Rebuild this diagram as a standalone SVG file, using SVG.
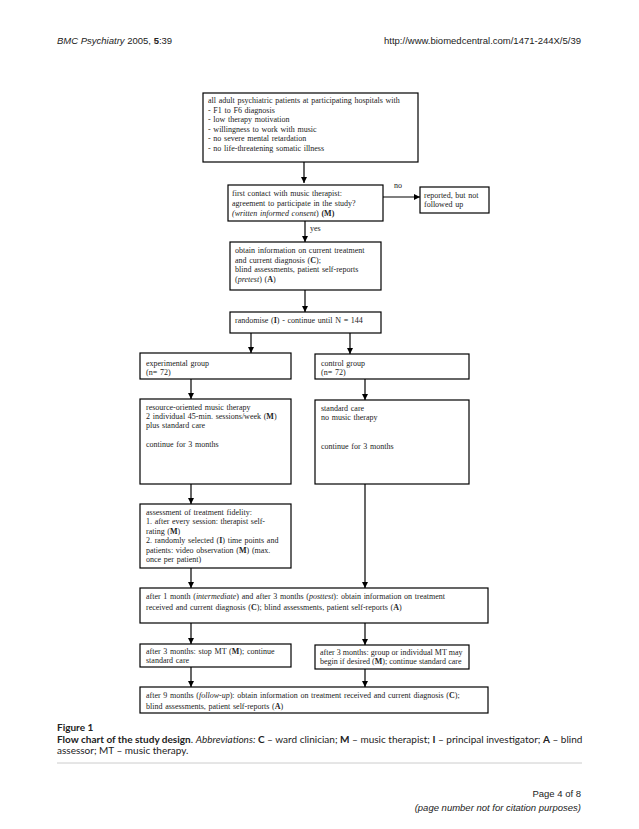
<svg xmlns="http://www.w3.org/2000/svg" width="639" height="829" viewBox="0 0 639 829">
<defs>
<marker id="ah" markerWidth="6" markerHeight="6" refX="6" refY="3" orient="auto" markerUnits="userSpaceOnUse">
<path d="M0,0 L6,3 L0,6 z" fill="#000"/>
</marker>
<style>
.bx{fill:#fff;stroke:#000;stroke-width:1.2}
.t{font-family:"Liberation Serif","Times New Roman",serif;font-size:8px;word-spacing:0.7px;fill:#222}
.tn{word-spacing:0.1px}
.c{stroke:#000;stroke-width:1.2;fill:none;marker-end:url(#ah)}
.hd{font-family:"Liberation Sans",Arial,sans-serif;font-size:9.5px;fill:#222}
.cap{font-family:Lato,"Open Sans",sans-serif;font-size:10px;fill:#222}
.b{font-weight:bold}
.i{font-style:italic}
</style>
</defs>
<rect width="639" height="829" fill="#fff"/>
<text class="hd" x="57" y="44"><tspan class="i">BMC Psychiatry</tspan> 2005, <tspan class="b">5</tspan>:39</text>
<text class="hd" x="581" y="44" text-anchor="end">http://www.biomedcentral.com/1471-244X/5/39</text>

<g id="connectors">
<path class="c" d="M304,162 V183"/>
<path class="c" d="M383,197 H420"/>
<path class="c" d="M305,221 V242"/>
<path class="c" d="M305,290 V312"/>
<path class="c" d="M251,333 V353"/>
<path class="c" d="M350,333 V354"/>
<path class="c" d="M191,379 V399"/>
<path class="c" d="M365,379 V400"/>
<path class="c" d="M191,484 V504"/>
<path class="c" d="M365,484 V588"/>
<path class="c" d="M191,568 V588"/>
<path class="c" d="M191,623 V644"/>
<path class="c" d="M365,623 V645"/>
<path class="c" d="M191,667 V687"/>
<path class="c" d="M365,669 V687"/>
<text class="t" x="394" y="188">no</text>
<text class="t" x="310" y="231">yes</text>
</g>

<g id="n1">
<rect class="bx" x="203" y="93" width="215" height="69"/>
<text class="t" x="208" y="103" word-spacing="1.5">all adult psychiatric patients at participating hospitals with</text>
<text class="t" x="208" y="112.5">- F1 to F6 diagnosis</text>
<text class="t" x="208" y="122">- low therapy motivation</text>
<text class="t" x="208" y="131.5">- willingness to work with music</text>
<text class="t" x="208" y="141">- no severe mental retardation</text>
<text class="t" x="208" y="150.5">- no life-threatening somatic illness</text>
</g>

<g id="n2">
<rect class="bx" x="228" y="185" width="155" height="36"/>
<text class="t" x="232" y="196">first contact with music therapist:</text>
<text class="t" x="232" y="206">agreement to participate in the study?</text>
<text class="t" x="232" y="216"><tspan class="i">(written informed consent</tspan>) <tspan class="b">(M)</tspan></text>
</g>

<g id="n3">
<rect class="bx" x="420" y="187" width="69" height="26"/>
<text class="t" x="424" y="198">reported, but not</text>
<text class="t" x="424" y="207">followed up</text>
</g>

<g id="n4">
<rect class="bx" x="230" y="242" width="151" height="48"/>
<text class="t" x="235" y="253">obtain information on current treatment</text>
<text class="t" x="235" y="263">and current diagnosis (<tspan class="b">C</tspan>);</text>
<text class="t" x="235" y="272">blind assessments, patient self-reports</text>
<text class="t" x="235" y="282">(<tspan class="i">pretest</tspan>) (<tspan class="b">A</tspan>)</text>
</g>

<g id="n5">
<rect class="bx" x="230" y="312" width="151" height="21"/>
<text class="t" x="235" y="323">randomise (<tspan class="b">I</tspan>) - continue until N = 144</text>
</g>

<g id="n6">
<rect class="bx" x="140" y="353" width="151" height="26"/>
<text class="t" x="146" y="366">experimental group</text>
<text class="t" x="146" y="375">(n= 72)</text>
</g>

<g id="n7">
<rect class="bx" x="315" y="354" width="154" height="25"/>
<text class="t" x="321" y="366">control group</text>
<text class="t" x="321" y="375">(n= 72)</text>
</g>

<g id="n8">
<rect class="bx" x="140" y="399" width="151" height="85"/>
<text class="t" x="146" y="410">resource-oriented music therapy</text>
<text class="t" x="146" y="419">2 individual 45-min. sessions/week (<tspan class="b">M</tspan>)</text>
<text class="t" x="146" y="428">plus standard care</text>
<text class="t" x="146" y="447">continue for 3 months</text>
</g>

<g id="n9">
<rect class="bx" x="315" y="400" width="154" height="84"/>
<text class="t" x="321" y="411">standard care</text>
<text class="t" x="321" y="420">no music therapy</text>
<text class="t" x="321" y="449">continue for 3 months</text>
</g>

<g id="n10">
<rect class="bx" x="140" y="504" width="151" height="64"/>
<text class="t" x="146" y="515">assessment of treatment fidelity:</text>
<text class="t" x="146" y="524.4">1. after every session: therapist self-</text>
<text class="t" x="146" y="533.8">rating (<tspan class="b">M</tspan>)</text>
<text class="t" x="146" y="543.2">2. randomly selected  (<tspan class="b">I</tspan>) time points and</text>
<text class="t" x="146" y="552.6">patients: video observation  (<tspan class="b">M</tspan>) (max.</text>
<text class="t" x="146" y="562">once per patient)</text>
</g>

<g id="n11">
<rect class="bx" x="140" y="588" width="348" height="35"/>
<text class="t" x="146" y="599" word-spacing="1.5">after 1 month (<tspan class="i">intermediate</tspan>) and after 3 months (<tspan class="i">posttest</tspan>): obtain information on treatment</text>
<text class="t" x="146" y="610" word-spacing="1.5">received and current diagnosis (<tspan class="b">C</tspan>); blind assessments, patient self-reports (<tspan class="b">A</tspan>)</text>
</g>

<g id="n12">
<rect class="bx" x="140" y="644" width="151" height="23"/>
<text class="t" x="146" y="653.5">after 3 months: stop MT (<tspan class="b">M</tspan>); continue</text>
<text class="t" x="146" y="663">standard care</text>
</g>

<g id="n13">
<rect class="bx" x="315" y="645" width="154" height="24"/>
<text class="t tn" x="320" y="655">after 3 months: group or individual MT may</text>
<text class="t tn" x="320" y="664">begin if desired (<tspan class="b">M</tspan>); continue standard care</text>
</g>

<g id="n14">
<rect class="bx" x="140" y="687" width="348" height="26"/>
<text class="t" x="146" y="698" word-spacing="1.5">after 9 months (<tspan class="i">follow-up</tspan>): obtain information on treatment received and current diagnosis (<tspan class="b">C</tspan>);</text>
<text class="t" x="146" y="709" word-spacing="1.5">blind assessments, patient self-reports (<tspan class="b">A</tspan>)</text>
</g>

<text class="cap b" x="57" y="731">Figure 1</text>
<text class="cap" x="57" y="743"><tspan class="b">Flow chart of the study design</tspan>. <tspan class="i">Abbreviations:</tspan> <tspan class="b">C</tspan> – ward clinician; <tspan class="b">M</tspan> – music therapist; <tspan class="b">I</tspan> – principal investigator; <tspan class="b">A</tspan> – blind</text>
<text class="cap" x="57" y="754">assessor; MT – music therapy.</text>
<line x1="57" y1="763" x2="582" y2="763" stroke="#ccc" stroke-width="1"/>

<text class="hd" x="581" y="797" text-anchor="end">Page 4 of 8</text>
<text class="hd i" x="581" y="811" text-anchor="end" font-size="7.5">(page number not for citation purposes)</text>
</svg>
